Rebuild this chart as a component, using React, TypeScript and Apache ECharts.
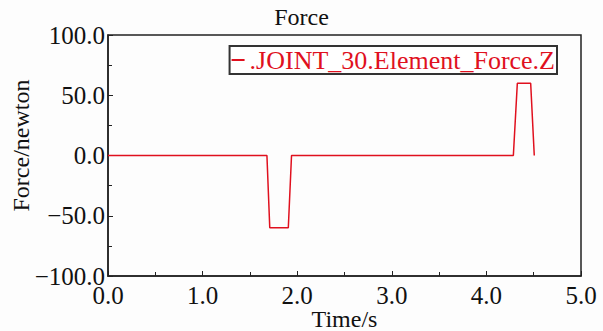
import React, { useEffect, useRef } from "react";
import * as echarts from "echarts";

const seriesName = ".JOINT_30.Element_Force.Z";
const timeValues = [0, 1.68, 1.71, 1.906, 1.94, 4.285, 4.327, 4.468, 4.506];
const forceValues = [0, 0, -60, -60, 0, 0, 60, 60, 0];
const xTicks = [0, 1, 2, 3, 4, 5];
const yTicks = [-100, -50, 0, 50, 100];

const FONT = "'Liberation Serif', 'Times New Roman', serif";
const RED = "#e0101e";
const AXIS = "#222222";

export default function App() {
  const ref = useRef<HTMLDivElement>(null);
  useEffect(() => {
    if (!ref.current) return;
    const chart = echarts.init(ref.current, undefined, { renderer: "svg" });
    const data = timeValues.map((t, i) => [t, forceValues[i]]);
    chart.setOption({
      animation: false,
      backgroundColor: "#fdfdfd",
      title: {
        text: "Force",
        left: "center",
        top: 0,
        textStyle: { fontFamily: FONT, fontSize: 24, fontWeight: "normal", color: "#111" },
      },
      legend: {
        data: [{ name: seriesName, icon: "rect" }],
        right: 46,
        top: 46,
        itemWidth: 13,
        itemHeight: 2,
        itemGap: 0,
        padding: [1, 2, 1, 2],
        borderColor: "#333",
        borderWidth: 2,
        backgroundColor: "#ffffff",
        textStyle: { fontFamily: FONT, fontSize: 26, color: RED },
      },
      grid: {
        left: 108,
        right: 22,
        top: 35,
        bottom: 55,
        show: true,
        borderColor: AXIS,
        borderWidth: 1.5,
        containLabel: false,
        outerBoundsMode: "none",
      },
      graphic: [
        {
          type: "text",
          x: 21,
          y: 145.5,
          rotation: Math.PI / 2,
          style: {
            text: "Force/newton",
            fontFamily: FONT,
            fontSize: 24,
            fill: "#111",
            align: "center",
            verticalAlign: "middle",
          },
        },
        {
          type: "text",
          x: 344.5,
          y: 319,
          style: {
            text: "Time/s",
            fontFamily: FONT,
            fontSize: 24,
            fill: "#111",
            align: "center",
            verticalAlign: "middle",
          },
        },
      ],
      xAxis: {
        type: "value",
        min: xTicks[0],
        max: xTicks[xTicks.length - 1],
        interval: 1,
        axisLine: { show: true, onZero: false, lineStyle: { color: AXIS, width: 1.5 } },
        axisTick: { inside: true, length: 5, lineStyle: { color: AXIS } },
        minorTick: { show: true, splitNumber: 2, length: 4, lineStyle: { color: AXIS } },
        splitLine: { show: false },
        axisLabel: {
          fontFamily: FONT,
          fontSize: 25,
          color: "#111",
          margin: 7,
          formatter: (v: number) => v.toFixed(1),
        },
      },
      yAxis: {
        type: "value",
        min: yTicks[0],
        max: yTicks[yTicks.length - 1],
        interval: 50,
        axisLine: { show: true, onZero: false, lineStyle: { color: AXIS, width: 1.5 } },
        axisTick: { inside: true, length: 5, lineStyle: { color: AXIS } },
        minorTick: { show: true, splitNumber: 2, length: 4, lineStyle: { color: AXIS } },
        splitLine: { show: false },
        axisLabel: {
          fontFamily: FONT,
          fontSize: 25,
          color: "#111",
          margin: 3,
          formatter: (v: number) => (v < 0 ? "\u2212" + Math.abs(v).toFixed(1) : v.toFixed(1)),
        },
      },
      series: [
        {
          name: seriesName,
          type: "line",
          data,
          showSymbol: false,
          symbol: "none",
          lineStyle: { color: RED, width: 1.5 },
          itemStyle: { color: RED },
        },
      ],
    });
    return () => chart.dispose();
  }, []);
  return <div ref={ref} style={{ width: 603, height: 331, position: "absolute", left: 0, top: 0 }} />;
}
